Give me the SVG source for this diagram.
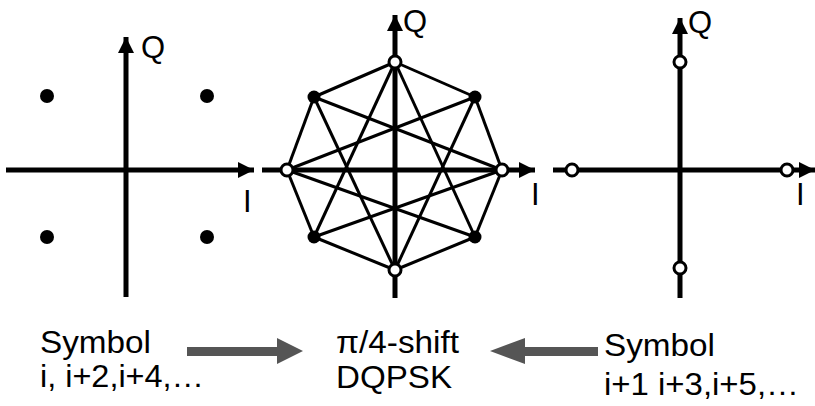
<svg xmlns="http://www.w3.org/2000/svg" width="815" height="406" viewBox="0 0 815 406">
<style>
.axis{stroke:#000;stroke-width:5;fill:none}
.edge{stroke:#000;stroke-width:3;fill:none}
.open{fill:#fff;stroke:#000;stroke-width:3}
.dot{fill:#000}
.lbl{font-family:"Liberation Sans",Arial,sans-serif;font-size:31px;fill:#000}
.txt{font-family:"Liberation Sans",Arial,sans-serif;font-size:32px;fill:#000}
.big{fill:#555}
</style>
<defs>
<marker id="ah" viewBox="0 0 10 10" refX="10" refY="5" markerUnits="userSpaceOnUse" markerWidth="16" markerHeight="16" orient="auto">
<path d="M0,0 L10,5 L0,10 Z" fill="#000"/>
</marker>
</defs>
<rect width="815" height="406" fill="#fff"/>

<g id="connectors">
<g id="octagon-edges">
<line class="edge" x1="395" y1="62" x2="314" y2="97"/>
<line class="edge" x1="395" y1="62" x2="475" y2="97"/>
<line class="edge" x1="395" y1="62" x2="314" y2="237"/>
<line class="edge" x1="395" y1="62" x2="475" y2="237"/>
<line class="edge" x1="395" y1="270" x2="314" y2="97"/>
<line class="edge" x1="395" y1="270" x2="475" y2="97"/>
<line class="edge" x1="395" y1="270" x2="314" y2="237"/>
<line class="edge" x1="395" y1="270" x2="475" y2="237"/>
<line class="edge" x1="287" y1="170" x2="314" y2="97"/>
<line class="edge" x1="287" y1="170" x2="475" y2="97"/>
<line class="edge" x1="287" y1="170" x2="314" y2="237"/>
<line class="edge" x1="287" y1="170" x2="475" y2="237"/>
<line class="edge" x1="502" y1="170" x2="314" y2="97"/>
<line class="edge" x1="502" y1="170" x2="475" y2="97"/>
<line class="edge" x1="502" y1="170" x2="314" y2="237"/>
<line class="edge" x1="502" y1="170" x2="475" y2="237"/>
</g>
<polygon id="arrow-left" class="big" points="187,347 277,347 277,338 303,351 277,364 277,356 187,356"/>
<polygon id="arrow-right" class="big" points="598,347 525,347 525,338 490,351 525,364 525,356 598,356"/>
</g>

<g id="left-plane">
<line class="axis" x1="6" y1="170" x2="254" y2="170" marker-end="url(#ah)"/>
<line class="axis" x1="126" y1="297" x2="126" y2="37" marker-end="url(#ah)"/>
<text class="lbl" x="141" y="58">Q</text>
<text class="lbl" x="243" y="212">I</text>
<circle class="dot" cx="47" cy="96" r="7"/>
<circle class="dot" cx="207" cy="96" r="7"/>
<circle class="dot" cx="47" cy="237" r="7"/>
<circle class="dot" cx="207" cy="237" r="7"/>
</g>

<g id="middle-plane">
<line class="axis" x1="262" y1="170" x2="535" y2="170" marker-end="url(#ah)"/>
<line class="axis" x1="395" y1="298" x2="395" y2="15" marker-end="url(#ah)"/>
<text class="lbl" x="403" y="32">Q</text>
<text class="lbl" x="531" y="205">I</text>
<circle class="dot" cx="314" cy="97" r="6.5"/>
<circle class="dot" cx="475" cy="97" r="6.5"/>
<circle class="dot" cx="314" cy="237" r="6.5"/>
<circle class="dot" cx="475" cy="237" r="6.5"/>
<circle class="open" cx="395" cy="62" r="6"/>
<circle class="open" cx="395" cy="270" r="6"/>
<circle class="open" cx="287" cy="170" r="6"/>
<circle class="open" cx="502" cy="170" r="6"/>
</g>

<g id="right-plane">
<line class="axis" x1="553" y1="170" x2="815" y2="170" marker-end="url(#ah)"/>
<line class="axis" x1="680" y1="298" x2="680" y2="18" marker-end="url(#ah)"/>
<text class="lbl" x="688" y="33">Q</text>
<text class="lbl" x="796" y="205">I</text>
<circle class="open" cx="680" cy="62" r="6"/>
<circle class="open" cx="680" cy="268" r="6"/>
<circle class="open" cx="572" cy="170" r="6"/>
<circle class="open" cx="787" cy="170" r="6"/>
</g>

<g id="label-left">
<text class="txt" x="40" y="353" textLength="111" lengthAdjust="spacingAndGlyphs">Symbol</text>
<text class="txt" x="40" y="387" textLength="164" lengthAdjust="spacingAndGlyphs">i, i+2,i+4,…</text>
</g>
<g id="label-middle">
<text class="txt" x="336" y="353" textLength="123" lengthAdjust="spacingAndGlyphs">π/4-shift</text>
<text class="txt" x="336" y="388" textLength="116" lengthAdjust="spacingAndGlyphs">DQPSK</text>
</g>
<g id="label-right">
<text class="txt" x="604" y="356" textLength="111" lengthAdjust="spacingAndGlyphs">Symbol</text>
<text class="txt" x="604" y="395" textLength="195" lengthAdjust="spacingAndGlyphs">i+1 i+3,i+5,…</text>
</g>
</svg>
